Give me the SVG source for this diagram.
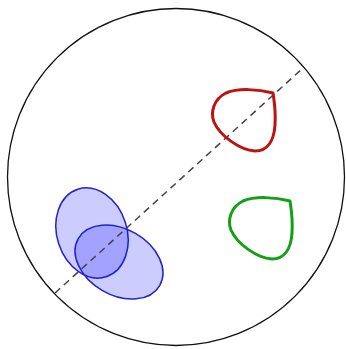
<svg xmlns="http://www.w3.org/2000/svg" width="346" height="349" viewBox="0 0 346 349">
<defs>
<style>
.drop{fill:none;stroke-width:3;stroke-linejoin:round}
.ell{fill:#0000ff;fill-opacity:0.2;stroke:#2222cc;stroke-width:1.5}
</style>
<path id="tear" d="M273,93 C258,89 238,88 226,93 C214,99 210,112 214,122 C220,136 240,150 255,151 C268,151 274,140 275,125 C276,110 274,100 273,93 Z"/>
</defs>
<rect width="346" height="349" fill="#fff"/>
<g id="boundary"><circle cx="176" cy="177" r="168.5" fill="none" stroke="#111" stroke-width="1.3"/></g>
<g id="blue-ellipses">
<ellipse class="ell" cx="0" cy="0" rx="35" ry="46" transform="translate(92,233) rotate(-18)"/>
<ellipse class="ell" cx="0" cy="0" rx="47" ry="33" transform="translate(119,262) rotate(30)"/>
</g>
<g id="connectors"><line x1="55" y1="293" x2="303" y2="68" stroke="#444" stroke-width="1.5" stroke-dasharray="7,5"/></g>
<g id="red"><use href="#tear" class="drop" stroke="#c01010"/></g>
<g id="green"><use href="#tear" class="drop" stroke="#14a014" transform="translate(17,108)"/></g>
</svg>
